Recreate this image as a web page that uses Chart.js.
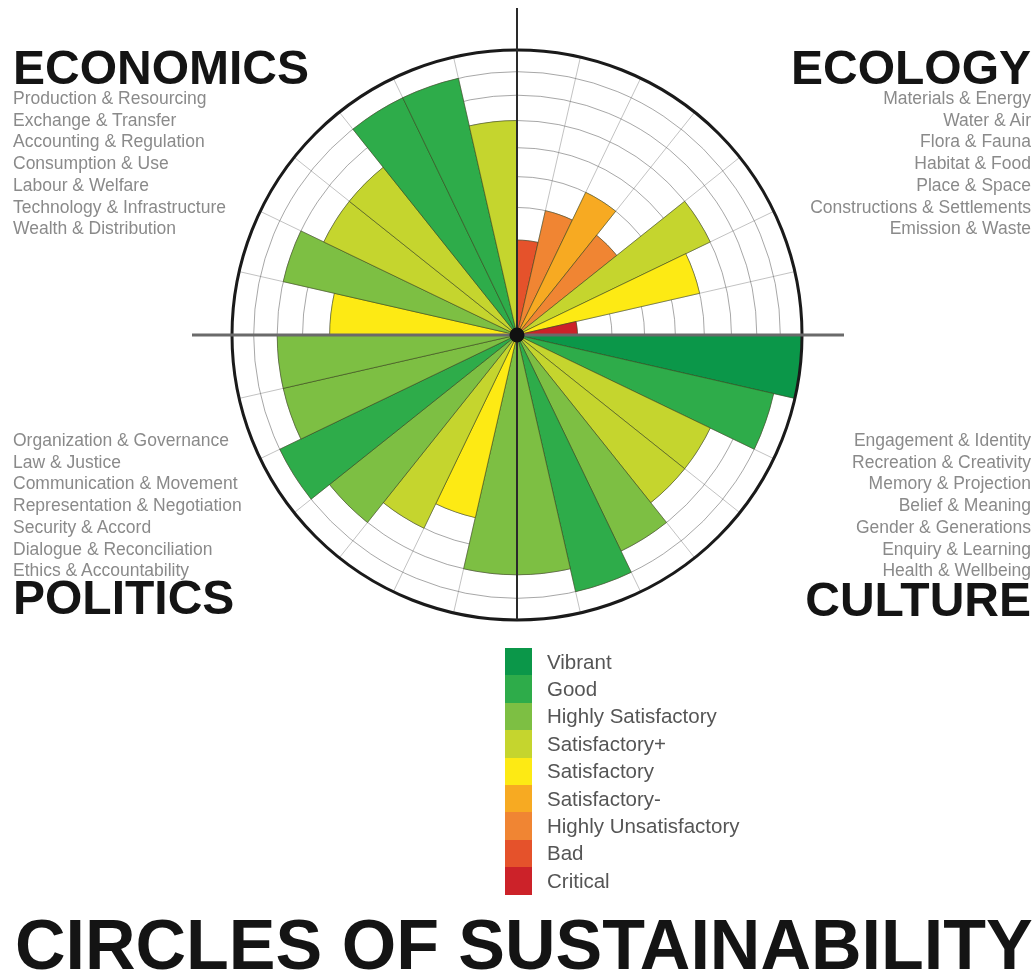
<!DOCTYPE html>
<html>
<head>
<meta charset="utf-8">
<title>Circles of Sustainability</title>
<script src="https://cdn.jsdelivr.net/npm/chart.js@4.4.1/dist/chart.umd.min.js"></script>
<style>
  html, body { margin: 0; padding: 0; background: #fff; }
  body {
    width: 1035px; height: 975px; position: relative; overflow: hidden;
    font-family: "Liberation Sans", Arial, Helvetica, sans-serif;
  }
  .chart-wrap { position: absolute; left: 0; top: 0; width: 1035px; height: 680px; }
  .domain { position: absolute; font-weight: bold; font-size: 48px; line-height: 48px; color: #141414; white-space: nowrap; }
  .subs { position: absolute; font-size: 17.5px; line-height: 21.7px; color: #8a8a8a; white-space: nowrap; }
  .subs.right { text-align: right; }
  #legend { position: absolute; left: 505px; top: 648px; }
  .legend-row { height: 27.4px; display: flex; align-items: center; }
  .legend-swatch { width: 27px; height: 100%; }
  .legend-label { margin-left: 15px; font-size: 20.5px; color: #555; white-space: nowrap; }
  .title { position: absolute; left: 15px; top: 910px; font-weight: bold; font-size: 70px; line-height: 70px; color: #141414; white-space: nowrap; }
</style>
</head>
<body>
<div class="chart-wrap"><canvas id="circle"></canvas></div>
<div id="texts"></div>
<div id="legend"></div>
<div class="title">CIRCLES OF SUSTAINABILITY</div>

<script>
// Subdomain names as listed next to each quadrant
const ecologySubs = ['Materials & Energy', 'Water & Air', 'Flora & Fauna', 'Habitat & Food', 'Place & Space', 'Constructions & Settlements', 'Emission & Waste'];
const cultureSubs = ['Engagement & Identity', 'Recreation & Creativity', 'Memory & Projection', 'Belief & Meaning', 'Gender & Generations', 'Enquiry & Learning', 'Health & Wellbeing'];
const politicsSubs = ['Organization & Governance', 'Law & Justice', 'Communication & Movement', 'Representation & Negotiation', 'Security & Accord', 'Dialogue & Reconciliation', 'Ethics & Accountability'];
const economicsSubs = ['Production & Resourcing', 'Exchange & Transfer', 'Accounting & Regulation', 'Consumption & Use', 'Labour & Welfare', 'Technology & Infrastructure', 'Wealth & Distribution'];

// Scores 1 (Critical) .. 9 (Vibrant), clockwise starting at north
const ecologyScores = [2, 3, 4, 3, 6, 5, 1];
const cultureScores = [9, 8, 6, 6, 7, 8, 7];
const politicsScores = [7, 5, 6, 7, 8, 7, 7];
const economicsScores = [5, 7, 6, 6, 8, 8, 6];

// Scale levels, index 0 = score 1
const levelNames = ['Critical', 'Bad', 'Highly Unsatisfactory', 'Satisfactory-', 'Satisfactory', 'Satisfactory+', 'Highly Satisfactory', 'Good', 'Vibrant'];
const levelColors = ['#cc2229', '#e5522b', '#f08533', '#f7aa22', '#fdea14', '#c5d52e', '#7dbf43', '#2eac4a', '#0b9749'];

// Rings get tighter toward the rim on the original, so the radial scale bends a little
class SustainRadialScale extends Chart.RadialLinearScale {
  getDistanceFromCenterForValue(value) {
    if (value === null || value === undefined || isNaN(value)) return NaN;
    const t = (value - this.min) / (this.max - this.min);
    return this.drawingArea * (0.085 + 1.174 * t - 0.259 * t * t);
  }
}
SustainRadialScale.id = 'sustainRadial';
SustainRadialScale.defaults = Chart.RadialLinearScale.defaults;
Chart.register(SustainRadialScale);

const labels = [...ecologySubs, ...cultureSubs, ...politicsSubs, ...economicsSubs];
const scores = [...ecologyScores, ...cultureScores, ...politicsScores, ...economicsScores];

const crossAxes = {
  id: 'crossAxes',
  afterDatasetsDraw(chart) {
    const r = chart.scales.r;
    const ctx = chart.ctx;
    const cx = r.xCenter, cy = r.yCenter;
    const R = r.getDistanceFromCenterForValue(r.max);
    ctx.save();
    // outer rim
    ctx.strokeStyle = '#1a1a1a';
    ctx.lineWidth = 3;
    ctx.beginPath();
    ctx.arc(cx, cy, R, 0, Math.PI * 2);
    ctx.stroke();
    // vertical axis
    ctx.strokeStyle = '#2a2a2a';
    ctx.lineWidth = 2;
    ctx.beginPath();
    ctx.moveTo(cx, cy - R - 42);
    ctx.lineTo(cx, cy + R);
    ctx.stroke();
    // horizontal axis
    ctx.strokeStyle = '#6a6a6a';
    ctx.lineWidth = 3;
    ctx.beginPath();
    ctx.moveTo(cx - R - 40, cy);
    ctx.lineTo(cx + R + 42, cy);
    ctx.stroke();
    // hub
    ctx.fillStyle = '#111';
    ctx.beginPath();
    ctx.arc(cx, cy, 7.5, 0, Math.PI * 2);
    ctx.fill();
    ctx.restore();
  }
};

new Chart(document.getElementById('circle').getContext('2d'), {
  type: 'polarArea',
  data: {
    labels,
    datasets: [{
      label: 'Score',
      data: scores,
      backgroundColor: scores.map(s => levelColors[s - 1]),
      borderColor: 'rgba(55,65,25,0.55)',
      borderWidth: 1,
    }],
  },
  options: {
    responsive: true,
    maintainAspectRatio: false,
    animation: false,
    layout: { padding: { top: 50, bottom: 60, left: 232, right: 233 } },
    plugins: { legend: { display: false }, tooltip: { enabled: false } },
    scales: {
      r: {
        type: 'sustainRadial',
        min: 0,
        max: 9,
        startAngle: 0,
        ticks: { display: false, stepSize: 1 },
        grid: { circular: true, color: 'rgba(95,95,95,0.55)', lineWidth: 1 },
        angleLines: { display: true, color: 'rgba(120,120,120,0.45)', lineWidth: 1 },
        pointLabels: { display: false },
      },
    },
  },
  plugins: [crossAxes],
});

// Quadrant headings and their subdomain lists
const blocks = [
  { name: 'ECONOMICS', subs: economicsSubs, side: 'left', head: 44, list: 88 },
  { name: 'ECOLOGY', subs: ecologySubs, side: 'right', head: 44, list: 88 },
  { name: 'POLITICS', subs: politicsSubs, side: 'left', head: 574, list: 430 },
  { name: 'CULTURE', subs: cultureSubs, side: 'right', head: 576, list: 430 },
];
const texts = document.getElementById('texts');
texts.innerHTML = blocks.map(b => {
  const pos = b.side === 'left' ? 'left:13px;' : 'right:4px;';
  return `
    <div class="domain" style="${pos}top:${b.head}px;">${b.name}</div>
    <div class="subs ${b.side}" style="${pos}top:${b.list}px;">${b.subs.map(escapeHtml).join('<br>')}</div>`;
}).join('');

// Colour scale, best level on top
document.getElementById('legend').innerHTML = levelNames
  .map((name, i) => ({ name, color: levelColors[i] }))
  .reverse()
  .map(l => `
    <div class="legend-row">
      <span class="legend-swatch" style="background:${l.color}"></span>
      <span class="legend-label">${escapeHtml(l.name)}</span>
    </div>`)
  .join('');

function escapeHtml(s) {
  return String(s).replace(/[&<>"']/g, c => ({ '&': '&amp;', '<': '&lt;', '>': '&gt;', '"': '&quot;', "'": '&#39;' }[c]));
}
</script>
</body>
</html>
